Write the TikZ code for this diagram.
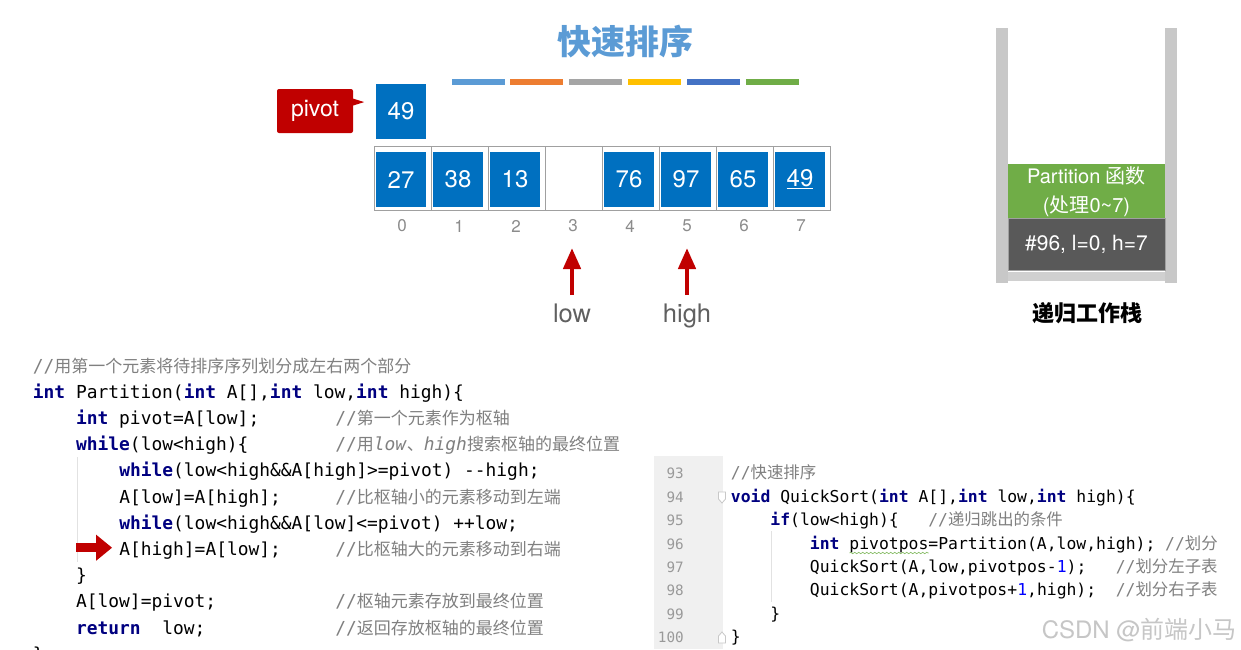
\documentclass[tikz,border=0pt]{standalone}
\usepackage{fontspec}
\setmainfont{TeX Gyre Heros}
\setmonofont{DejaVu Sans Mono}
\newfontfamily\cjkfont{Noto Sans CJK SC}
\usetikzlibrary{arrows.meta, calc, decorations.pathmorphing}

\definecolor{cellblue}{HTML}{0070C0}
\definecolor{pivotred}{HTML}{C00000}
\definecolor{titleblue}{HTML}{5B9BD5}
\definecolor{barorange}{HTML}{ED7D31}
\definecolor{bargray}{HTML}{A5A5A5}
\definecolor{baryellow}{HTML}{FFC000}
\definecolor{barblue}{HTML}{4472C4}
\definecolor{bargreen}{HTML}{70AD47}
\definecolor{darkblock}{HTML}{595959}
\definecolor{wallgray}{HTML}{C8C8C8}
\definecolor{framegray}{HTML}{A0A0A0}
\definecolor{idxgray}{HTML}{8C8C8C}
\definecolor{ptrlabel}{HTML}{606060}
\definecolor{kwnavy}{HTML}{000080}
\definecolor{cmtgray}{HTML}{808080}
\definecolor{numblue}{HTML}{0000FF}
\definecolor{gutter}{HTML}{F0F0F0}
\definecolor{linegray}{HTML}{999999}
\definecolor{guide}{HTML}{E2E2E2}
\definecolor{wavegreen}{HTML}{7DB85A}

\newcommand{\kw}[1]{{\bfseries\color{kwnavy}#1}}
\newcommand{\zh}[1]{{\cjkfont #1}}
\newcommand{\zhL}[1]{{\fontsize{17}{20}\selectfont\cjkfont #1}}
\newcommand{\codenum}[1]{{\color{numblue}#1}}

\begin{document}
\begin{tikzpicture}[
    x=1pt, y=-1pt,
    cellbox/.style={
        rectangle, fill=cellblue, text=white,
        minimum width=50pt, minimum height=55pt, inner sep=0pt,
        font=\fontsize{24}{28}\selectfont
    },
    idxlbl/.style={text=idxgray, inner sep=0pt, font=\fontsize{17}{20}\selectfont},
    ptrlbl/.style={anchor=base, text=ptrlabel, inner sep=0pt, font=\fontsize{25.5}{30}\selectfont},
    uparrow/.style={-{Triangle[length=21pt, width=17pt]}, line width=4.5pt, draw=pivotred},
    frameline/.style={draw=framegray, line width=1pt},
    colorbar/.style={minimum width=53pt, minimum height=6pt, inner sep=0pt},
    stackblock/.style={
        rectangle, text=white, minimum width=157pt, inner sep=0pt,
        align=center, font=\fontsize{20}{29}\selectfont
    },
    codeL/.style={anchor=base west, inner sep=0pt, font=\ttfamily\fontsize{17.9}{20}\selectfont},
    cmtL/.style={codeL, text=cmtgray},
    codeR/.style={anchor=base west, inner sep=0pt, font=\ttfamily\fontsize{16.4}{19}\selectfont},
    cmtR/.style={codeR, text=cmtgray},
    lineno/.style={anchor=base east, inner sep=0pt, text=linegray, font=\ttfamily\fontsize{14.3}{17}\selectfont},
    foldmark/.style={draw=wallgray, fill=white, line width=0.8pt}
]
\fill[white] (0,0) rectangle (1241,649);
\useasboundingbox (0,0) rectangle (1241,649);

% 1. TOP SECTION: title and colour bars
\node[text=titleblue, font=\cjkfont\bfseries\fontsize{34}{40}\selectfont] (Title) at (625,42) {快速排序};

\node[colorbar, fill=titleblue] (Bar1) at (478.5,82) {};
\node[colorbar, fill=barorange] (Bar2) at (536,82) {};
\node[colorbar, fill=bargray] (Bar3) at (595,82) {};
\node[colorbar, fill=baryellow] (Bar4) at (654,82) {};
\node[colorbar, fill=barblue] (Bar5) at (713,82) {};
\node[colorbar, fill=bargreen] (Bar6) at (772.5,82) {};

% Pivot element and its callout
\node[cellbox] (Pivot) at (401,111.5) {49};
\node[rectangle, fill=pivotred, rounded corners=2pt, text=white,
      minimum width=76pt, minimum height=44pt, inner sep=0pt,
      font=\fontsize{23}{27}\selectfont] (PivotLbl) at (315,111) {pivot};
\fill[pivotred] ($(PivotLbl.north east)+(-1,9.5)$) -- ($(PivotLbl.north east)+(11,13.3)$)
    -- ($(PivotLbl.north east)+(-1,17)$) -- cycle;

% 2. ARRAY: frame, cells and indices
\draw[frameline] (374,146.5) rectangle (830,210.5);
\draw[frameline] (431,146.5) -- (431,210.5) (488,146.5) -- (488,210.5)
    (545,146.5) -- (545,210.5) (602,146.5) -- (602,210.5)
    (659,146.5) -- (659,210.5) (716,146.5) -- (716,210.5)
    (773,146.5) -- (773,210.5);

\node[cellbox] (C0) at (401,179.5) {27};
\node[cellbox] (C1) at (458,179.5) {38};
\node[cellbox] (C2) at (515,179.5) {13};
\node[cellbox] (C4) at (629,179.5) {76};
\node[cellbox] (C5) at (686,179.5) {97};
\node[cellbox] (C6) at (743,179.5) {65};
\node[cellbox] (C7) at (800,179.5) {\underline{49}};

\node[idxlbl] (I0) at (402,226) {0};
\node[idxlbl] (I1) at (459,226) {1};
\node[idxlbl] (I2) at (516,226) {2};
\node[idxlbl] (I3) at (573,226) {3};
\node[idxlbl] (I4) at (630,226) {4};
\node[idxlbl] (I5) at (687,226) {5};
\node[idxlbl] (I6) at (744,226) {6};
\node[idxlbl] (I7) at (801,226) {7};

% low / high pointers
\node[ptrlbl] (LowLbl) at (572,322.5) {low};
\node[ptrlbl] (HighLbl) at (687,322.5) {high};
\coordinate (LowFoot) at (572,295);
\coordinate (LowTip) at (572,248);
\coordinate (HighFoot) at (687,295);
\coordinate (HighTip) at (687,248);
\draw[uparrow] (LowFoot) -- (LowTip);
\draw[uparrow] (HighFoot) -- (HighTip);

% 3. RECURSION STACK
\fill[wallgray] (996,28) rectangle (1007.7,282.7);
\fill[wallgray] (1165,28) rectangle (1176.7,282.7);
\fill[wallgray!85] (1008,271.7) rectangle (1165,280.7);

\node[stackblock, fill=bargreen, minimum height=54.7pt] (StackTop) at (1086.5,191.5)
    {Partition \zh{函数}\\(\zh{处理}0\textasciitilde 7)};
\node[stackblock, fill=darkblock, draw=framegray, line width=0.6pt, minimum height=52.7pt,
      font=\fontsize{21}{25}\selectfont] (StackBase) at (1086.5,244.4) {\#96, l=0, h=7};
\node[font=\cjkfont\bfseries\fontsize{22}{26}\selectfont] (StackCap) at (1087,313) {递归工作栈};

% 4. LEFT CODE: Partition
\draw[guide, line width=0.8pt] (77,457) -- (77,562);
\node[cmtL] (L0) at (32.7,372) {//\zhL{用第一个元素将待排序序列划分成左右两个部分}};
\node[codeL] (L1) at (32.7,398.2) {\kw{int} Partition(\kw{int} A[],\kw{int} low,\kw{int} high)\{};
\node[codeL] (L2) at (75.9,424.4) {\kw{int} pivot=A[low];};
\node[cmtL] (LC2) at (335.1,424.4) {//\zhL{第一个元素作为枢轴}};
\node[codeL] (L3) at (75.9,450.6) {\kw{while}(low<high)\{};
\node[cmtL] (LC3) at (335.1,450.6) {//\zhL{用}\textit{low}\zhL{、}\textit{high}\zhL{搜索枢轴的最终位置}};
\node[codeL] (L4) at (119.1,476.8) {\kw{while}(low<high\&\&A[high]>=pivot) -{}-high;};
\node[codeL] (L5) at (119.1,503) {A[low]=A[high];};
\node[cmtL] (LC5) at (335.1,503) {//\zhL{比枢轴小的元素移动到左端}};
\node[codeL] (L6) at (119.1,529.2) {\kw{while}(low<high\&\&A[low]<=pivot) ++low;};
\node[codeL] (L7) at (119.1,555.4) {A[high]=A[low];};
\node[cmtL] (LC7) at (335.1,555.4) {//\zhL{比枢轴大的元素移动到右端}};
\node[codeL] (L8) at (75.9,581.6) {\}};
\node[codeL] (L9) at (75.9,607.8) {A[low]=pivot;};
\node[cmtL] (LC9) at (335.1,607.8) {//\zhL{枢轴元素存放到最终位置}};
\node[codeL] (L10) at (75.9,634) {\kw{return}\ \ low;};
\node[cmtL] (LC10) at (335.1,634) {//\zhL{返回存放枢轴的最终位置}};
\node[codeL] (L11) at (32.7,660.2) {\}};

% current line marker
\coordinate (MarkTail) at (76,547.7);
\draw[-{Triangle[length=16pt, width=25pt]}, line width=9pt, draw=pivotred]
    (MarkTail) -- ([xshift=-7pt]L7.west |- MarkTail);

% 5. RIGHT CODE: QuickSort
\fill[gutter] (654,456) rectangle (723,649);
\node[lineno] (N93) at (684,478.7) {93};
\node[lineno] (N94) at (684,502.1) {94};
\node[lineno] (N95) at (684,525.6) {95};
\node[lineno] (N96) at (684,549) {96};
\node[lineno] (N97) at (684,572.4) {97};
\node[lineno] (N98) at (684,595.9) {98};
\node[lineno] (N99) at (684,619.3) {99};
\node[lineno] (N100) at (684,642.7) {100};
\draw[foldmark] (718.5,492) -- (725.5,492) -- (725.5,499) -- (722,503) -- (718.5,499) -- cycle;
\draw[foldmark] (718.5,643) -- (725.5,643) -- (725.5,636) -- (722,632) -- (718.5,636) -- cycle;
\draw[guide, line width=0.8pt] (771.7,531) -- (771.7,602);

\node[cmtR] (R93) at (730.7,478.7) {//\zh{快速排序}};
\node[codeR] (R94) at (730.7,502.1) {\kw{void} QuickSort(\kw{int} A[],\kw{int} low,\kw{int} high)\{};
\node[codeR] (R95) at (770.2,525.6) {\kw{if}(low<high)\{};
\node[cmtR] (RC95) at (928.1,525.6) {//\zh{递归跳出的条件}};
\node[codeR] (R96) at (809.7,549) {\kw{int} pivotpos=Partition(A,low,high);};
\node[cmtR] (RC96) at (1165,549) {//\zh{划分}};
\node[codeR] (R97) at (809.7,572.4) {QuickSort(A,low,pivotpos-\codenum{1});};
\node[cmtR] (RC97) at (1115.6,572.4) {//\zh{划分左子表}};
\node[codeR] (R98) at (809.7,595.9) {QuickSort(A,pivotpos+\codenum{1},high);};
\node[cmtR] (RC98) at (1115.6,595.9) {//\zh{划分右子表}};
\node[codeR] (R99) at (770.2,619.3) {\}};
\node[codeR] (R100) at (730.7,642.7) {\}};
\draw[decorate, decoration={snake, amplitude=0.7pt, segment length=4pt}, draw=wavegreen, line width=0.6pt]
    (849.5,553) -- (928.5,553);

% watermark
\node[anchor=east, text=gray!45, inner sep=0pt, font=\fontsize{24}{28}\selectfont] (Mark) at (1237,630)
    {CSDN @\zh{前端小马}};

\end{tikzpicture}
\end{document}
